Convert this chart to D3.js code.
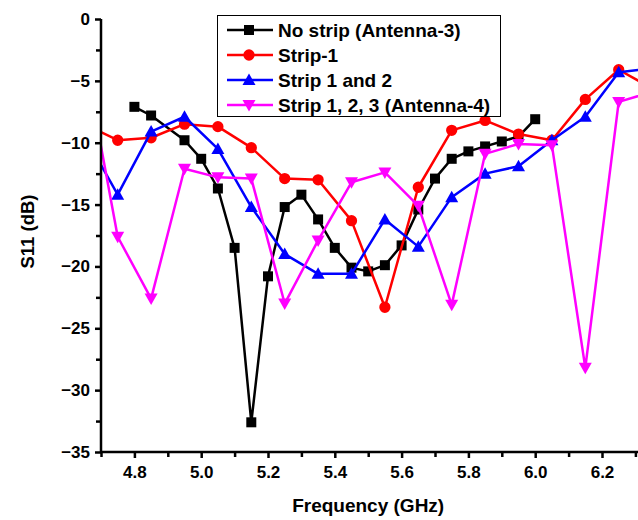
<!DOCTYPE html>
<html>
<head>
<meta charset="utf-8">
<script src="https://cdn.jsdelivr.net/npm/d3@7"></script>
<style>
    body { margin: 0; background: white; }
    svg { display: block; }
</style>
</head>
<body>
<svg id="my-svg"></svg>
<script>
// data
const noStripFreq = [4.8, 4.85, 4.95, 5.0, 5.05, 5.1, 5.15, 5.2, 5.25, 5.3, 5.35, 5.4, 5.45, 5.5, 5.55, 5.6, 5.65, 5.7, 5.75, 5.8, 5.85, 5.9, 5.95, 6.0];
const noStrip = [-7.1, -7.8, -9.8, -11.3, -13.7, -18.5, -32.6, -20.8, -15.2, -14.2, -16.2, -18.5, -20.1, -20.4, -19.9, -18.3, -15.4, -12.9, -11.3, -10.7, -10.3, -9.9, -9.5, -8.1];

const stripFreq = [4.65, 4.75, 4.85, 4.95, 5.05, 5.15, 5.25, 5.35, 5.45, 5.55, 5.65, 5.75, 5.85, 5.95, 6.05, 6.15, 6.25, 6.35];
const strip1 = [-8.5, -9.8, -9.6, -8.5, -8.7, -10.4, -12.9, -13.0, -16.3, -23.3, -13.6, -9.0, -8.2, -9.3, -9.8, -6.5, -4.1, -5.6];
const strip12 = [-9.4, -14.2, -9.1, -7.9, -10.5, -15.2, -19.0, -20.6, -20.6, -16.2, -18.4, -14.4, -12.5, -11.9, -9.8, -7.9, -4.3, -4.0];
const strip123 = [-3.0, -17.6, -22.6, -12.1, -12.8, -12.9, -23.0, -17.9, -13.2, -12.4, -15.1, -23.1, -10.9, -10.1, -10.2, -28.2, -6.7, -5.9];

const seriesNames = ["No strip (Antenna-3)", "Strip-1", "Strip 1 and 2", "Strip 1, 2, 3 (Antenna-4)"];
const seriesColors = ["#000000", "#ff0000", "#0000ff", "#ff00ff"];
const seriesSymbols = ["square", "circle", "up", "down"];

const xMajorTicks = [4.8, 5.0, 5.2, 5.4, 5.6, 5.8, 6.0, 6.2];
const xMinorTicks = [4.7, 4.9, 5.1, 5.3, 5.5, 5.7, 5.9, 6.1, 6.3];
const yMajorTicks = [0, -5, -10, -15, -20, -25, -30, -35];
const yMinorTicks = [-2.5, -7.5, -12.5, -17.5, -22.5, -27.5, -32.5];

const width = 638;
const height = 520;
const margin = { top: 19, right: 2, bottom: 68, left: 101 };
const font = "'Liberation Sans', Arial, sans-serif";

const series = [
    { freq: noStripFreq, vals: noStrip },
    { freq: stripFreq, vals: strip1 },
    { freq: stripFreq, vals: strip12 },
    { freq: stripFreq, vals: strip123 }
].map((s, i) => ({
    name: seriesNames[i],
    color: seriesColors[i],
    symbol: seriesSymbols[i],
    points: s.freq.map((f, j) => ({ f: f, v: s.vals[j] }))
}));

const svg = d3.select("#my-svg")
    .attr("width", width)
    .attr("height", height)
    .style("font-family", font);

const x = d3.scaleLinear()
    .domain([4.7, 6.3])
    .range([margin.left, margin.left + 1.6 * 334]);

const y = d3.scaleLinear()
    .domain([-35, 0])
    .range([height - margin.bottom, margin.top]);

svg.append("clipPath")
    .attr("id", "plot-clip")
    .append("rect")
    .attr("x", margin.left)
    .attr("y", 0)
    .attr("width", width - margin.left)
    .attr("height", y(-35));

function symbolPath(kind) {
    if (kind === "square") return d3.symbol(d3.symbolSquare, 100)();
    if (kind === "circle") return d3.symbol(d3.symbolCircle, 100)();
    if (kind === "up") return "M0,-6.5L6.5,5L-6.5,5Z";
    return "M0,6.5L6.5,-5L-6.5,-5Z";
}

// ===================   Series   =========================

const plot = svg.append("g")
    .attr("clip-path", "url(#plot-clip)");

const line = d3.line()
    .x(d => x(d.f))
    .y(d => y(d.v));

series.forEach(s => {
    const g = plot.append("g");

    g.append("path")
        .datum(s.points)
        .attr("d", line)
        .attr("fill", "none")
        .attr("stroke", s.color)
        .attr("stroke-width", 2.5)
        .attr("stroke-linejoin", "round");

    g.selectAll("path.marker")
        .data(s.points)
        .enter().append("path")
        .attr("class", "marker")
        .attr("d", symbolPath(s.symbol))
        .attr("transform", d => `translate(${x(d.f)},${y(d.v)})`)
        .attr("fill", s.color);
});

// ===================   Axes   =========================

const xAxisY = y(-35);

const xMinor = svg.append("g")
    .attr("transform", `translate(0,${xAxisY})`)
    .call(d3.axisBottom(x).tickValues(xMinorTicks).tickSize(5).tickSizeOuter(0).tickFormat(""));

const xMajor = svg.append("g")
    .attr("transform", `translate(0,${xAxisY})`)
    .call(d3.axisBottom(x).tickValues(xMajorTicks).tickSize(6).tickSizeOuter(0).tickPadding(8)
        .tickFormat(d3.format(".1f")));

svg.append("line")
    .attr("x1", margin.left - 1)
    .attr("x2", width)
    .attr("y1", xAxisY)
    .attr("y2", xAxisY)
    .attr("stroke", "black")
    .attr("stroke-width", 2.5);

const yMinor = svg.append("g")
    .attr("transform", `translate(${margin.left},0)`)
    .call(d3.axisLeft(y).tickValues(yMinorTicks).tickSize(5).tickSizeOuter(0).tickFormat(""));

const yMajor = svg.append("g")
    .attr("transform", `translate(${margin.left},0)`)
    .call(d3.axisLeft(y).tickValues(yMajorTicks).tickSize(6).tickSizeOuter(0).tickPadding(5)
        .tickFormat(d3.format("d")));

svg.append("line")
    .attr("x1", margin.left)
    .attr("x2", margin.left)
    .attr("y1", y(0))
    .attr("y2", xAxisY + 1)
    .attr("stroke", "black")
    .attr("stroke-width", 2.5);

svg.selectAll(".domain").remove();

svg.selectAll(".tick line")
    .attr("stroke", "black")
    .attr("stroke-width", 2.5);

svg.selectAll(".tick text")
    .style("font-family", font)
    .style("font-size", "17px")
    .style("font-weight", "bold")
    .attr("fill", "black");

svg.append("text")
    .attr("x", (x(4.7) + x(6.3)) / 2)
    .attr("y", 512)
    .attr("text-anchor", "middle")
    .style("font-size", "19px")
    .style("font-weight", "bold")
    .text("Frequency (GHz)");

svg.append("text")
    .attr("transform", `translate(34,${(y(0) + y(-35)) / 2 - 4}) rotate(-90)`)
    .attr("text-anchor", "middle")
    .style("font-size", "18.5px")
    .style("font-weight", "bold")
    .text("S11 (dB)");

// ===================   Legend   =========================

const legend = svg.append("g")
    .attr("transform", "translate(217,15)");

legend.append("rect")
    .attr("x", 0.5)
    .attr("y", 0.5)
    .attr("width", 283)
    .attr("height", 101)
    .attr("fill", "white")
    .attr("stroke", "black")
    .attr("stroke-width", 1);

const legendItem = legend.selectAll(".legend-item")
    .data(series)
    .enter().append("g")
    .attr("class", "legend-item")
    .attr("transform", (d, i) => `translate(0,${15 + i * 25})`);

legendItem.append("line")
    .attr("x1", 10)
    .attr("x2", 56)
    .attr("stroke", d => d.color)
    .attr("stroke-width", 2.5);

legendItem.append("path")
    .attr("d", d => symbolPath(d.symbol))
    .attr("transform", "translate(32,0)")
    .attr("fill", d => d.color);

legendItem.append("text")
    .attr("x", 61)
    .attr("y", 7)
    .style("font-size", "19px")
    .style("font-weight", "bold")
    .text(d => d.name);
</script>
</body>
</html>
